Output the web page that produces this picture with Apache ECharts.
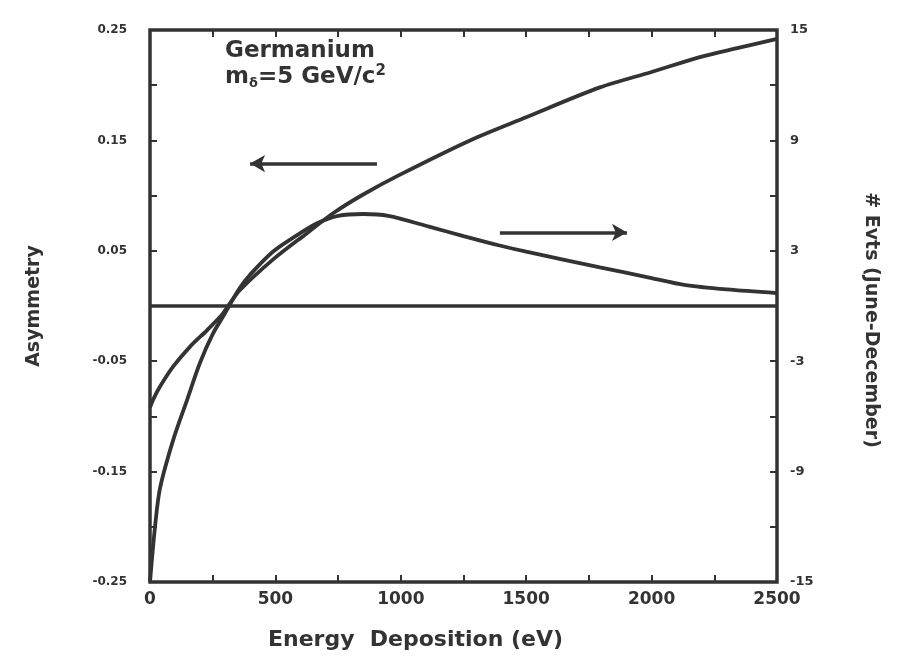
<!DOCTYPE html>
<html>
<head>
<meta charset="utf-8">
<script src="https://cdn.jsdelivr.net/npm/echarts@6/dist/echarts.min.js"></script>
<style>
  html, body { margin: 0; padding: 0; background: #fff; }
  #chart { width: 908px; height: 666px; }
</style>
</head>
<body>
<div id="chart"></div>
<script>
// Annual-modulation asymmetry and June-December event difference for germanium
const asymEnergy = [0, 12, 40, 92, 159, 227, 287, 311, 359, 490, 626, 730, 850, 997, 1276, 1500, 1794, 2000, 2193, 2350, 2500];
const asymValues = [-0.092, -0.085, -0.073, -0.055, -0.037, -0.022, -0.008, 0, 0.0145, 0.042, 0.066, 0.084, 0.101, 0.119, 0.150, 0.171, 0.198, 0.212, 0.2255, 0.234, 0.242];

const evtsEnergy = [0, 20, 40, 92, 148, 199, 251, 299, 315, 359, 399, 490, 598, 666, 750, 850, 950, 1116, 1250, 1390, 1500, 1794, 2000, 2130, 2300, 2500];
const evtsValues = [-15, -12.0, -9.9, -7.3, -5.1, -3.1, -1.5, -0.4, 0, 1.0, 1.7, 2.95, 3.95, 4.5, 4.9, 5.0, 4.9, 4.3, 3.8, 3.3, 2.95, 2.1, 1.52, 1.15, 0.9, 0.7];

const xTicks = [0, 500, 1000, 1500, 2000, 2500];
const asymTicks = [-0.25, -0.15, -0.05, 0.05, 0.15, 0.25];
const evtsTicks = [-15, -9, -3, 3, 9, 15];

const ink = '#333333';
const font = 'DejaVu Sans';

const pairs = (xs, ys) => xs.map((x, i) => [x, ys[i]]);
const near = (list, v) => list.some(t => Math.abs(t - v) < 1e-6);

const hiddenLine = { show: false, onZero: false };
const tickStyle = { show: true, inside: true, length: 7, lineStyle: { color: ink, width: 2 } };
const label = size => ({ color: ink, fontFamily: font, fontWeight: 'bold', fontSize: size });
const nameStyle = (size, extra) => Object.assign({ color: ink, fontFamily: font, fontWeight: 'bold', fontSize: size }, extra);

const chart = echarts.init(document.getElementById('chart'));
chart.setOption({
  animation: false,
  backgroundColor: '#fff',
  grid: { left: 150, right: 131, top: 30, bottom: 84, show: true, borderColor: ink, borderWidth: 3.5, backgroundColor: 'transparent' },
  title: {
    left: 220, top: 33,
    text: 'Germanium\n{m|m}{sub|δ}{m|=5 GeV/c}{sup|2}',
    textStyle: {
      color: ink, fontFamily: font, fontWeight: 'bold', fontSize: 23, lineHeight: 26,
      rich: {
        m: { color: ink, fontFamily: font, fontWeight: 'bold', fontSize: 23 },
        sub: { color: ink, fontFamily: font, fontWeight: 'bold', fontSize: 13, padding: [13, 0, 0, 0] },
        sup: { color: ink, fontFamily: font, fontWeight: 'bold', fontSize: 15, padding: [0, 0, 11, 0] }
      }
    }
  },
  xAxis: [{
    type: 'value', min: 0, max: 2500, interval: 250, position: 'bottom',
    name: 'Energy  Deposition (eV)', nameLocation: 'middle', nameGap: 47,
    nameTextStyle: nameStyle(22, { padding: [0, 96, 0, 0] }),
    axisLine: hiddenLine, splitLine: { show: false }, axisTick: tickStyle,
    axisLabel: Object.assign({ margin: 9, formatter: v => near(xTicks, v) ? String(v) : '' }, label(17))
  }, {
    type: 'value', min: 0, max: 2500, interval: 250, position: 'top',
    axisLine: hiddenLine, splitLine: { show: false }, axisTick: tickStyle, axisLabel: { show: false }
  }],
  yAxis: [{
    type: 'value', min: -0.25, max: 0.25, interval: 0.05, position: 'left',
    name: 'Asymmetry', nameLocation: 'middle', nameGap: 106, nameRotate: 90,
    nameTextStyle: nameStyle(19, {}),
    axisLine: hiddenLine, splitLine: { show: false }, axisTick: tickStyle,
    axisLabel: Object.assign({ margin: 23, formatter: v => near(asymTicks, v) ? v.toFixed(2) : '' }, label(12))
  }, {
    type: 'value', min: -15, max: 15, interval: 3, position: 'right',
    name: '# Evts (June-December)', nameLocation: 'middle', nameGap: 84, nameRotate: -90,
    nameTextStyle: nameStyle(19, { padding: [0, 0, 0, 28] }),
    axisLine: hiddenLine, splitLine: { show: false }, axisTick: tickStyle,
    axisLabel: Object.assign({ margin: 13, formatter: v => near(evtsTicks, v) ? String(v) : '' }, label(13))
  }],
  series: [{
    name: 'Asymmetry', type: 'line', xAxisIndex: 0, yAxisIndex: 0,
    data: pairs(asymEnergy, asymValues),
    smooth: 0.3, showSymbol: false,
    lineStyle: { color: ink, width: 3.8 },
    markLine: {
      silent: true, animation: false,
      label: { show: false },
      lineStyle: { color: ink, width: 3.5, type: 'solid' },
      data: [
        [{ coord: [0, 0], symbol: 'none' }, { coord: [2500, 0], symbol: 'none' }],
        [{ coord: [905, 0.129], symbol: 'none' }, { coord: [399, 0.129], symbol: 'arrow', symbolSize: [13, 15] }]
      ]
    }
  }, {
    name: '# Evts', type: 'line', xAxisIndex: 0, yAxisIndex: 1,
    data: pairs(evtsEnergy, evtsValues),
    smooth: 0.3, showSymbol: false,
    lineStyle: { color: ink, width: 3.8 },
    markLine: {
      silent: true, animation: false,
      label: { show: false },
      lineStyle: { color: ink, width: 3.5, type: 'solid' },
      data: [
        [{ coord: [1395, 4.0], symbol: 'none' }, { coord: [1902, 4.0], symbol: 'arrow', symbolSize: [13, 15] }]
      ]
    }
  }]
});
</script>
</body>
</html>
